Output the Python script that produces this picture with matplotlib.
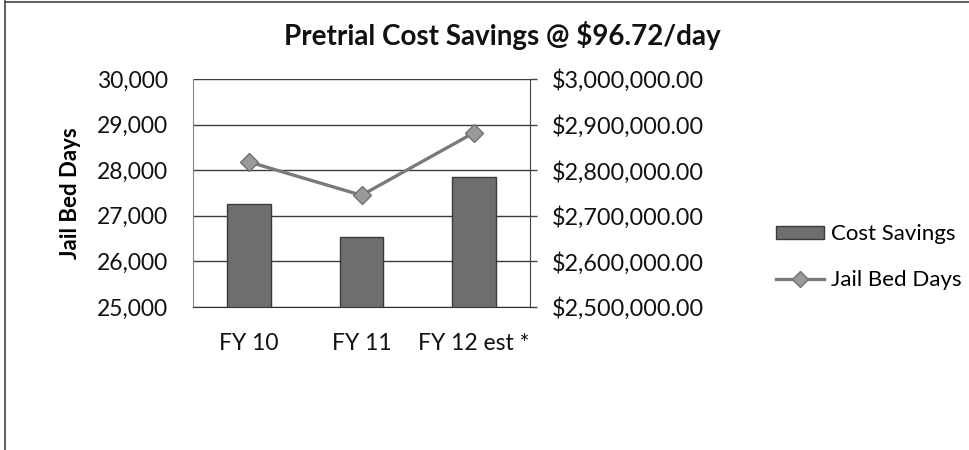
import numpy as np
import matplotlib
matplotlib.use("Agg")
import matplotlib.pyplot as plt
from matplotlib.lines import Line2D
from matplotlib.patches import Patch
from matplotlib.ticker import FuncFormatter

plt.rcParams['font.family'] = ['Lato', 'DejaVu Sans']

categories = ['FY 10', 'FY 11', 'FY 12 est *']
jail_bed_days = [28180, 27450, 28820]
cost_savings = [2725500, 2653000, 2785700]

fig = plt.figure(figsize=(9.69, 4.5), dpi=100)
# plot area in pixels: x 193..530, y 79..307
ax = fig.add_axes([193/969, 1 - 307/450, (530-193)/969, (307-79)/450])
ax2 = ax.twinx()

x = np.arange(len(categories))

# bars on the dollar axis (right)
ax2.bar(x, cost_savings, width=0.39, color='#6e6e6e', edgecolor='#3a3a3a',
        linewidth=1.0, zorder=2)
ax2.set_ylim(2500000, 3000000)
ax2.set_yticks(np.arange(2500000, 3000001, 100000))
ax2.yaxis.set_major_formatter(FuncFormatter(lambda v, p: '${:,.2f}'.format(v)))
ax2.grid(axis='y', color='#3c3c3c', linewidth=1.0)
ax2.set_axisbelow(True)
ax2.tick_params(axis='y', length=5, width=1, color='#444444', pad=11,
                labelsize=16.8, labelcolor='#111111')

# line on the days axis (left), drawn on top
ax.set_zorder(ax2.get_zorder() + 1)
ax.patch.set_visible(False)
ax.plot(x, jail_bed_days, color='#7a7a7a', linewidth=2.4, marker='D',
        markersize=9, markerfacecolor='#9a9a9a', markeredgecolor='#707070',
        markeredgewidth=1.0, zorder=3)
ax.set_ylim(25000, 30000)
ax.set_yticks(np.arange(25000, 30001, 1000))
ax.yaxis.set_major_formatter(FuncFormatter(lambda v, p: '{:,.0f}'.format(v)))
ax.tick_params(axis='y', length=0, pad=18, labelsize=16.5, labelcolor='#111111')
ax.set_xlim(-0.5, 2.5)
ax.set_xticks(x)
ax.set_xticklabels(categories)
ax.tick_params(axis='x', length=0, pad=19, labelsize=16.5, labelcolor='#111111')
ax2.tick_params(axis='x', length=0)
ax.set_ylabel('Jail Bed Days', fontsize=16, fontweight='bold', labelpad=11)

for a in (ax, ax2):
    a.spines['top'].set_visible(False)
ax.spines['left'].set_color('#888888')
ax.spines['right'].set_visible(False)
ax2.spines['left'].set_visible(False)
ax2.spines['right'].set_color('#444444')
ax.spines['bottom'].set_color('#333333')
ax2.spines['bottom'].set_visible(False)

fig.text(0.5 * (282 + 723) / 969, 1 - 36/450, 'Pretrial Cost Savings @ $96.72/day',
         ha='center', va='center', fontsize=20, fontweight='bold', color='#111111')

handles = [Patch(facecolor='#6e6e6e', edgecolor='#3a3a3a', linewidth=1.0),
           Line2D([0], [0], color='#7a7a7a', linewidth=2.4, marker='D',
                  markersize=8, markerfacecolor='#9a9a9a', markeredgecolor='#707070')]
fig.legend(handles, ['Cost Savings', 'Jail Bed Days'], loc='center left',
           bbox_to_anchor=(765/969, 1 - 257/450), frameon=False, fontsize=16,
           handlelength=2.15, handleheight=0.55, handletextpad=0.3, labelspacing=1.15,
           borderpad=0)

# outer chart frame (top and left edges visible in the scan)
fig.add_artist(Line2D([5/969, 5/969], [0, 1 - 1/450], color='#444444', linewidth=1.2))
fig.add_artist(Line2D([5/969, 1], [1 - 1.5/450, 1 - 1.5/450], color='#444444', linewidth=1.2))

fig.savefig('out.png', dpi=100)
